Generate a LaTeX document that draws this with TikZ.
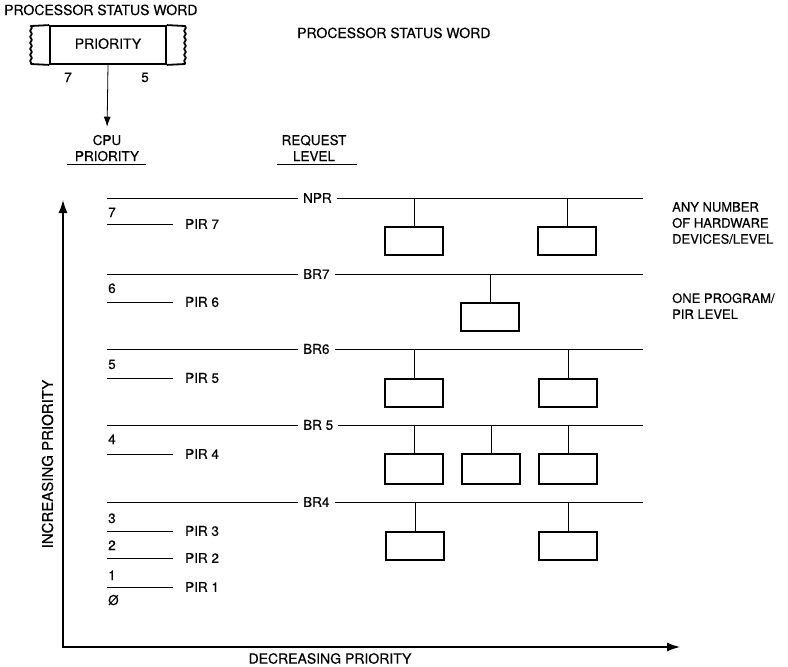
\documentclass[tikz,border=0pt]{standalone}
\usepackage{fontspec}
\setmainfont{TeX Gyre Heros}[FakeBold=0.4]
\usetikzlibrary{arrows.meta,decorations.pathmorphing}
\begin{document}
\begin{tikzpicture}[x=1pt,y=-1pt,
  lbl/.style={inner sep=0pt, font=\fontsize{13.5}{16}\selectfont},
  biglbl/.style={inner sep=0pt, font=\fontsize{14}{17}\selectfont},
  buslbl/.style={inner xsep=5pt, inner ysep=0pt, font=\fontsize{13.5}{16}\selectfont},
  pirlbl/.style={inner xsep=12pt, inner ysep=0pt, font=\fontsize{13.5}{16}\selectfont},
  thinline/.style={line width=0.8pt},
  heavy/.style={line width=1.8pt},
  devbox/.style={draw, line width=1.8pt, minimum width=58pt, minimum height=28pt, inner sep=0pt},
  tallbox/.style={devbox, minimum height=30pt},
  axis/.style={line width=1.3pt},
]
\useasboundingbox (0,0) rectangle (788,667);

% ---- processor status word ----
\node[biglbl, anchor=base west] (pswtitle) at (4,15) {PROCESSOR STATUS WORD};
\node[biglbl, anchor=base west] (pswtitle2) at (297,38) {PROCESSOR STATUS WORD};
\node[draw, heavy, minimum width=116pt, minimum height=38pt, inner sep=0pt,
      text depth=3pt, font=\fontsize{14}{17}\selectfont] (psw) at (108,45) {PRIORITY};
\draw[heavy, line join=round] (psw.north west) -- (31,26)
   decorate[decoration={snake, amplitude=0.9pt, segment length=6pt}] {-- (31,64)}
   -- (psw.south west);
\draw[heavy, line join=round] (psw.north east) -- (185,26)
   decorate[decoration={snake, amplitude=0.9pt, segment length=6pt}] {-- (185,64)}
   -- (psw.south east);
\node[lbl, anchor=base] (bit7) at (68,82) {7};
\node[lbl, anchor=base] (bit5) at (145,82) {5};

% ---- column headings ----
\node[lbl, anchor=base] (cpu) at (107,145) {CPU};
\node[lbl, anchor=base] (cpuprio) at (107,161) {PRIORITY};
\draw[thinline] (67,164) -- (146,164);
\node[lbl, anchor=base] (req) at (314,145) {REQUEST};
\node[lbl, anchor=base] (reqlvl) at (314,161) {LEVEL};
\draw[thinline] (277,164) -- (357,164);
\draw[thinline, -{Latex[length=10pt,width=7pt]}, shorten >=8pt] (psw.south) -- (cpu.north);

% ---- axes ----
\coordinate (origin) at (63,647);
\coordinate (ytip) at (63,200);
\coordinate (xtip) at (680,647);
\draw[axis, {Latex[length=13pt,width=9pt]}-{Latex[length=13pt,width=9pt]}] (ytip) -- (origin) -- (xtip);
\node[inner sep=0pt, rotate=90, font=\fontsize{15}{17}\selectfont] (incr) at (47.5,464) {INCREASING PRIORITY};
\node[inner sep=0pt, font=\fontsize{14}{17}\selectfont] (decr) at (330,658.5) {DECREASING PRIORITY};

% ---- request buses ----
\foreach \nm/\yy/\lab in {npr/198/NPR, br7/274/BR7, br6/349/BR6, br5/425/BR 5, br4/502/BR4}{
  \coordinate (\nm-l) at (107,\yy);
  \coordinate (\nm-r) at (643,\yy);
  \node[buslbl, anchor=west] (\nm) at (298,\yy) {\lab};
  \draw[thinline] (\nm-l) -- (\nm) -- (\nm-r);
}

% ---- CPU priority levels ----
\foreach \n/\yy in {7/224, 6/302, 5/378, 4/454, 3/531, 2/558, 1/587}{
  \coordinate (pirl\n) at (107,\yy);
  \node[pirlbl, anchor=west] (pir\n) at (173,\yy) {PIR \n};
  \draw[thinline] (pirl\n) -- (pir\n);
}
\foreach \n/\yy in {7/217, 6/293, 5/369, 4/444, 3/523, 2/550, 1/580}{
  \node[lbl, anchor=base west] (num\n) at (108,\yy) {\n};
}
\node[lbl, anchor=base west] (num0) at (108,605) {Ø};

% ---- devices ----
\foreach \nm/\xx/\top/\bus in {d1/414/226/npr, d2/567/226/npr, d3/490/302/br7,
    d4/414/378/br6, d5/568/378/br6, d9/415/531/br4, d10/568/531/br4}{
  \node[devbox, anchor=north] (\nm) at (\xx,\top) {};
  \draw[thinline] (\nm.north) -- (\nm.north |- \bus-l);
}
\foreach \nm/\xx in {d6/414, d7/491, d8/568}{
  \node[tallbox, anchor=north] (\nm) at (\xx,453) {};
  \draw[thinline] (\nm.north) -- (\nm.north |- br5-l);
}

% ---- notes ----
\node[lbl, font=\fontsize{13}{16}\selectfont, anchor=north west, align=left] (anynote) at (672,202)
  {ANY NUMBER\\OF HARDWARE\\DEVICES/LEVEL};
\node[lbl, font=\fontsize{13}{16}\selectfont, anchor=north west, align=left] (onenote) at (672,293)
  {ONE PROGRAM/\\PIR LEVEL};
\end{tikzpicture}
\end{document}
